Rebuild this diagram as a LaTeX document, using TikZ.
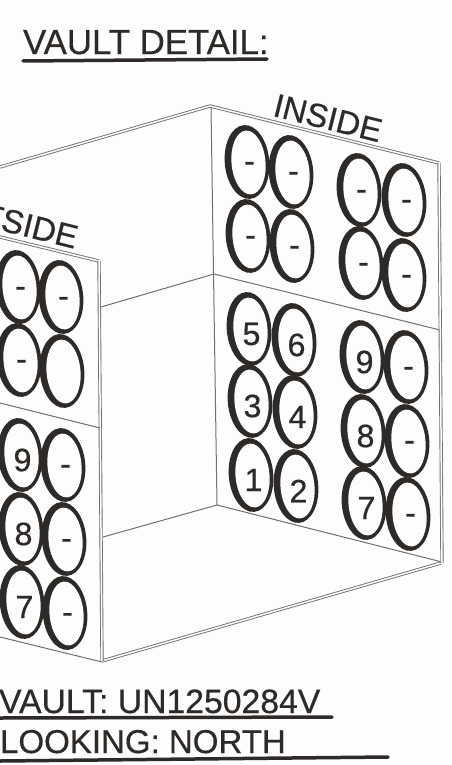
\documentclass[tikz,border=0pt]{standalone}
\usepackage{fontspec}
\setmainfont{Liberation Sans}[FakeBold=0.5]
\usepackage{tikz}
\usetikzlibrary{shapes.geometric}
\definecolor{inkdark}{HTML}{2E2A28}
\definecolor{wallgray}{HTML}{707070}
\definecolor{paper}{HTML}{FDFDFD}
\tikzset{
    slotout/.style = {ellipse, fill = inkdark, minimum width = 4.45cm, minimum height = 7.4cm, inner sep = 0, rotate = 5},
    slotin/.style = {ellipse, fill = paper, minimum width = 3.4cm, minimum height = 6.4cm, inner sep = 0, rotate = 5},
    slottext/.style = {font = \fontsize{92}{92}\selectfont, text = inkdark, inner sep = 0},
    wall/.style = {draw = wallgray, line width = 1mm},
    rim/.style = {draw = wallgray, line width = 0.9mm, double = paper, double distance = 1.5mm},
    title/.style = {font = \fontsize{94}{94}\selectfont, text = inkdark, inner sep = 0, anchor = base west},
    rule/.style = {draw = inkdark, line width = 3.5mm, line cap = round}
}
\begin{document}
\begin{tikzpicture}[x = 0.1cm, y = -0.1cm]
    \clip (0, 0) rectangle (451, 765);
    \fill[paper] (0, 0) rectangle (451, 765);

    % back walls and floor
    \draw[rim] (0, 167) -- (210, 106) -- (439, 163);
    \draw[wall] (211, 107) -- (217, 505);
    \draw[wall] (101, 307) -- (214, 274) -- (440, 330);
    \draw[wall] (103, 537) -- (217, 505) -- (442, 562);
    \draw[rim] (102, 661) -- (441, 563);
    \draw[rim] (439, 163) -- (442, 563);

    % near wall
    \draw[rim] (0, 237) -- (99, 261);
    \draw[rim] (99, 261) -- (102, 661);
    \draw[wall] (0, 403) -- (100, 428);
    \draw[wall] (0, 637) -- (102, 662);

    % cylinders
    \foreach \cx/\cy/\cn [count=\i] in {
        247/162/-, 291/172/-, 248/236/-, 292/246/-,
        359/190/-, 404/200/-, 361/263/-, 404/275/-,
        249/329/5, 294/340/6, 250/401/3, 295/412/4, 251/475/1, 296/486/2,
        362/357/9, 406/367/-, 363/431/8, 407/441/-, 364/503/7, 408/514/-,
        18/287/-, 61/297/-, 19/360/-, 20/455/9, 63/465/-, 21/529/8, 64/539/-, 22/602/7, 65/613/-}
    {
        \node[slotout] (out\i) at (\cx, \cy) {};
        \node[slotin] (in\i) at (\cx + 1.5, \cy + 0.5) {};
        \node[slottext] (num\i) at (\cx + 2.5, \cy + 5) {\cn};
    }
    \node[slotout] (outblank) at (62, 371) {};
    \node[slotin] (inblank) at (63.5, 371.5) {};

    % labels
    \node[title, rotate = -14, anchor = center] (inside) at (328, 118) {INSIDE};
    \node[title, rotate = -14, anchor = center] (outside) at (30, 226) {TSIDE};
    \node[title, font = \fontsize{99}{99}\selectfont] (detail) at (23, 54) {VAULT DETAIL:};
    \node[title, font = \fontsize{96}{96}\selectfont] (vault) at (-1, 713) {VAULT: UN1250284V};
    \node[title] (looking) at (0, 753) {LOOKING: NORTH};
    \draw[rule] (23, 61) -- (267, 59);
    \draw[rule] (0, 718) -- (332, 717);
    \draw[rule] (0, 761) -- (388, 757);
\end{tikzpicture}
\end{document}
